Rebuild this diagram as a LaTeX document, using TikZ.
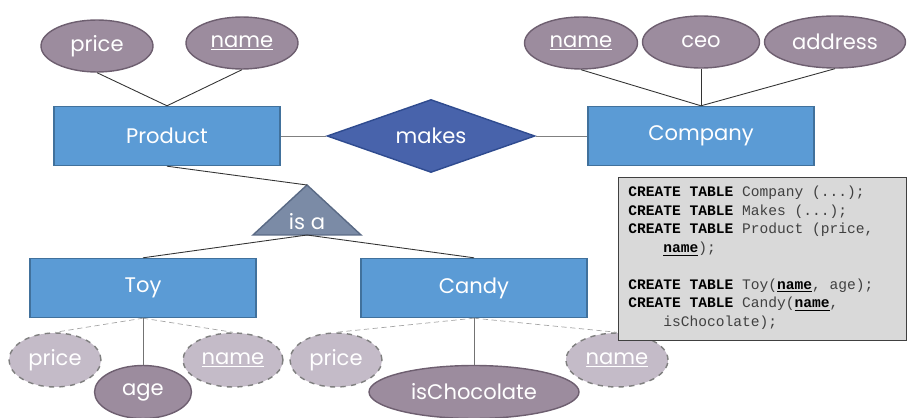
\documentclass[tikz,border=0pt]{standalone}
\usepackage{fontspec}
\setmainfont{Poppins}
\newfontfamily\codefont{Liberation Mono}
\usetikzlibrary{shapes.geometric}
\definecolor{entityfill}{HTML}{5B9BD5}
\definecolor{entityline}{HTML}{41719C}
\definecolor{attrfill}{HTML}{9C8C9E}
\definecolor{attrline}{HTML}{6E5F70}
\definecolor{inhfill}{HTML}{C4BBC8}
\definecolor{inhline}{HTML}{7F7F7F}
\definecolor{relfill}{HTML}{4863AB}
\definecolor{relline}{HTML}{2F4B8F}
\definecolor{isafill}{HTML}{7B8BA6}
\definecolor{isaline}{HTML}{5A6A85}
\definecolor{codefill}{HTML}{D9D9D9}
\definecolor{codeline}{HTML}{404040}
\begin{document}
\begin{tikzpicture}[x=0.02cm, y=-0.02cm,
    entity/.style={rectangle, draw=entityline, fill=entityfill, line width=0.8pt, minimum width=4.52cm, minimum height=1.18cm, text=white, font=\fontsize{12}{14}\selectfont},
    attr/.style={ellipse, draw=attrline, fill=attrfill, line width=0.8pt, inner sep=0pt, minimum height=1.04cm, text=white, font=\fontsize{12}{14}\selectfont},
    inherited/.style={attr, dashed, draw=inhline, fill=inhfill, minimum height=1.08cm},
    relation/.style={diamond, draw=relline, fill=relfill, line width=0.8pt, inner sep=0pt, aspect=2.85, minimum width=4.16cm, minimum height=1.46cm, text=white, font=\fontsize{12}{14}\selectfont},
    link/.style={draw=black!80, line width=0.5pt},
    inhlink/.style={draw=gray!70, densely dashed, line width=0.4pt},
    codebox/.style={rectangle, draw=codeline, fill=codefill, line width=0.8pt, minimum width=5.76cm, minimum height=3.26cm}
]
\useasboundingbox (0,0) rectangle (912,418);

% entities and relationship
\node[entity] (product) at (167,136) {Product};
\node[entity] (company) at (701,136) {Company};
\node[relation] (makes) at (431,136) {makes};
\node[entity] (toy) at (143,288) {Toy};
\node[entity] (candy) at (474,288) {Candy};

% attributes
\node[attr, minimum width=2.24cm] (pprice) at (97,46) {price};
\node[attr, minimum width=2.24cm] (pname) at (242,43) {\underline{name}};
\node[attr, minimum width=2.26cm] (cname) at (581,43) {\underline{name}};
\node[attr, minimum width=2.34cm] (cceo) at (701,42) {ceo};
\node[attr, minimum width=2.82cm] (caddress) at (835,42) {address};

\node[inherited, minimum width=1.84cm] (tprice) at (55,360) {price};
\node[attr, minimum width=1.94cm, minimum height=1.06cm] (tage) at (143,392) {age};
\node[inherited, minimum width=2.0cm] (tname) at (233,360) {\underline{name}};
\node[inherited, minimum width=1.84cm] (dprice) at (336,360) {price};
\node[attr, minimum width=4.2cm, minimum height=1.06cm] (dchoc) at (474,392) {isChocolate};
\node[inherited, minimum width=2.04cm] (dname) at (617,360) {\underline{name}};

% is a
\draw[draw=isaline, fill=isafill, line width=0.8pt] (253,235) -- (307,185) -- (361,235) -- cycle;
\coordinate (isatop) at (307,185);
\coordinate (isabase) at (307,235);
\node[text=white, font=\fontsize{12}{14}\selectfont] (isa) at (307,222) {is a};

% connectors
\draw[link] (pprice.south) -- (product.north);
\draw[link] (pname.south) -- (product.north);
\draw[link] (cname.south) -- (company.north);
\draw[link] (cceo.south) -- (company.north);
\draw[link] (caddress.south) -- (company.north);
\draw[link, draw=gray] (product.east) -- (makes.west);
\draw[link, draw=gray] (makes.east) -- (company.west);
\draw[link] (product.south) -- (isatop);
\draw[link] (isabase) -- (toy.north);
\draw[link] (isabase) -- (candy.north);
\draw[inhlink] (toy.south) -- (tprice.north);
\draw[inhlink] (toy.south) -- (tname.north);
\draw[link, draw=gray!90!black] (toy.south) -- (tage.north);
\draw[inhlink] (candy.south) -- (dprice.north);
\draw[inhlink] (candy.south) -- (dname.north);
\draw[link, draw=gray!90!black] (candy.south) -- (dchoc.north);

% sql
\node[codebox, anchor=north west] (code) at (618,177) {};
\node[anchor=north west, align=left, inner sep=0pt, text=codeline, font=\codefont\fontsize{8.3}{10.5}\selectfont] (sql) at (628,186)
  {\textcolor{black}{\textbf{CREATE TABLE}} Company (...);\\
   \textcolor{black}{\textbf{CREATE TABLE}} Makes (...);\\
   \textcolor{black}{\textbf{CREATE TABLE}} Product (price,\\
   \hphantom{CREA}\textcolor{black}{\textbf{\underline{name}}});\\[10.5pt]
   \textcolor{black}{\textbf{CREATE TABLE}} Toy(\textcolor{black}{\textbf{\underline{name}}}, age);\\
   \textcolor{black}{\textbf{CREATE TABLE}} Candy(\textcolor{black}{\textbf{\underline{name}}},\\
   \hphantom{CREA}isChocolate);};
\end{tikzpicture}
\end{document}
